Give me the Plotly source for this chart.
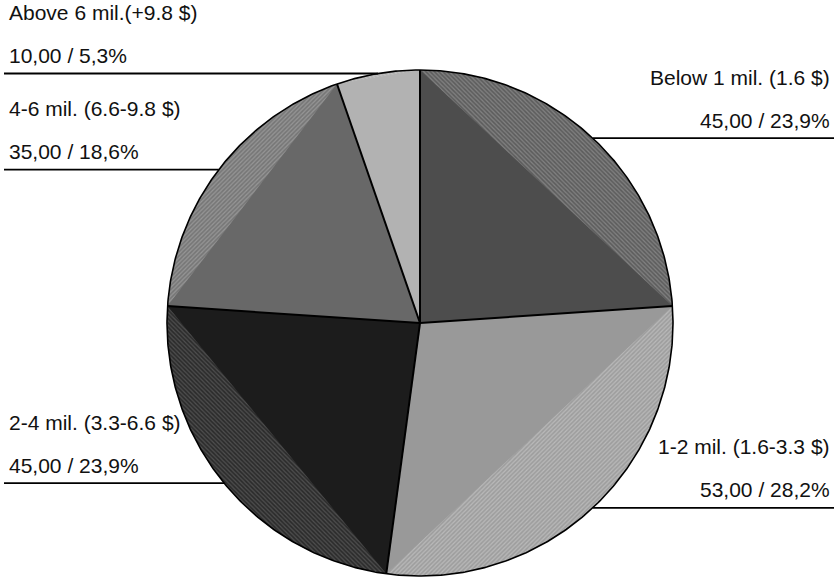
import numpy as np
import plotly.graph_objects as go

# Income groups, listed clockwise from 12 o'clock
categories = [
    "Below 1 mil. (1.6 $)",
    "1-2 mil. (1.6-3.3 $)",
    "2-4 mil. (3.3-6.6 $)",
    "4-6 mil. (6.6-9.8 $)",
    "Above 6 mil.(+9.8 $)",
]
values = [45, 53, 45, 35, 10]

# Flat fill of each slice's inner triangle, and the striped tone of the rim segment
slice_colors = ["#4d4d4d", "#999999", "#1c1c1c", "#686868", "#b2b2b2"]
rim_bg = ["#5e5e5e", "#9e9e9e", "#2c2c2c", "#777777", "#b2b2b2"]
rim_fg = ["#838383", "#bababa", "#505050", "#979797", "#c4c4c4"]
rim_shape = ["\\", "/", "\\", "/", "\\"]

W, H = 834, 578
CX, CY, R = 420.0, 323.0, 253.0
FONT = dict(family="Liberation Sans, Arial, sans-serif", size=21, color="#111111")


def pt(theta_deg, r=R):
    t = np.radians(theta_deg)
    return CX + r * np.sin(t), CY - r * np.cos(t)


total = float(sum(values))
bounds = np.concatenate([[0.0], np.cumsum(values)]) / total * 360.0

fig = go.Figure()

# Rim segments: full sector with striped fill
for i in range(len(values)):
    a0, a1 = bounds[i], bounds[i + 1]
    th = np.linspace(a0, a1, 240)
    xs, ys = pt(th)
    fig.add_trace(go.Scatter(
        x=np.concatenate([[CX], xs, [CX]]), y=np.concatenate([[CY], ys, [CY]]),
        mode="lines", fill="toself", line=dict(width=0, color=rim_bg[i]),
        fillcolor=rim_bg[i],
        fillpattern=dict(shape=rim_shape[i], bgcolor=rim_bg[i], fgcolor=rim_fg[i],
                         size=3, solidity=0.4, fillmode="replace"),
        hoverinfo="skip", showlegend=False))

# Inner triangles with the flat slice colour
for i in range(len(values)):
    a0, a1 = bounds[i], bounds[i + 1]
    x0, y0 = pt(a0)
    x1, y1 = pt(a1)
    fig.add_trace(go.Scatter(
        x=[CX, x0, x1, CX], y=[CY, y0, y1, CY],
        mode="lines", fill="toself", line=dict(width=0, color=slice_colors[i]),
        fillcolor=slice_colors[i], hoverinfo="skip", showlegend=False,
        name=categories[i]))

# Slice borders
for a in bounds[:-1]:
    xe, ye = pt(a)
    fig.add_trace(go.Scatter(x=[CX, xe], y=[CY, ye], mode="lines",
                             line=dict(color="black", width=2),
                             hoverinfo="skip", showlegend=False))

# Outer circle
th = np.linspace(0, 360, 720)
xc, yc = pt(th)
fig.add_trace(go.Scatter(x=xc, y=yc, mode="lines", line=dict(color="black", width=1.6),
                         hoverinfo="skip", showlegend=False))

# Leader lines and labels
for i, v in enumerate(values):
    mid = (bounds[i] + bounds[i + 1]) / 2.0
    mx, my = pt(mid)
    left = mid > 180
    pct = v / total * 100
    value_text = f"{v:.2f} / {pct:.1f}%".replace(".", ",")
    if left:
        lx = [4, mx]
        tx, anchor = 7, "left"
    else:
        lx = [mx, W]
        tx, anchor = W - 2, "right"
    fig.add_trace(go.Scatter(x=lx, y=[my, my], mode="lines",
                             line=dict(color="black", width=1.8),
                             hoverinfo="skip", showlegend=False))
    fig.add_annotation(x=tx, y=my - 61, xref="x", yref="y", text=categories[i],
                       showarrow=False, xanchor=anchor, yanchor="middle", font=FONT)
    fig.add_annotation(x=tx, y=my - 18, xref="x", yref="y", text=value_text,
                       showarrow=False, xanchor=anchor, yanchor="middle", font=FONT)

fig.update_layout(
    width=W, height=H, margin=dict(l=0, r=0, t=0, b=0),
    paper_bgcolor="white", plot_bgcolor="white", showlegend=False,
    xaxis=dict(range=[0, W], visible=False, fixedrange=True),
    yaxis=dict(range=[H, 0], visible=False, fixedrange=True),
)

fig.write_html("out.html", config={"displayModeBar": False})
